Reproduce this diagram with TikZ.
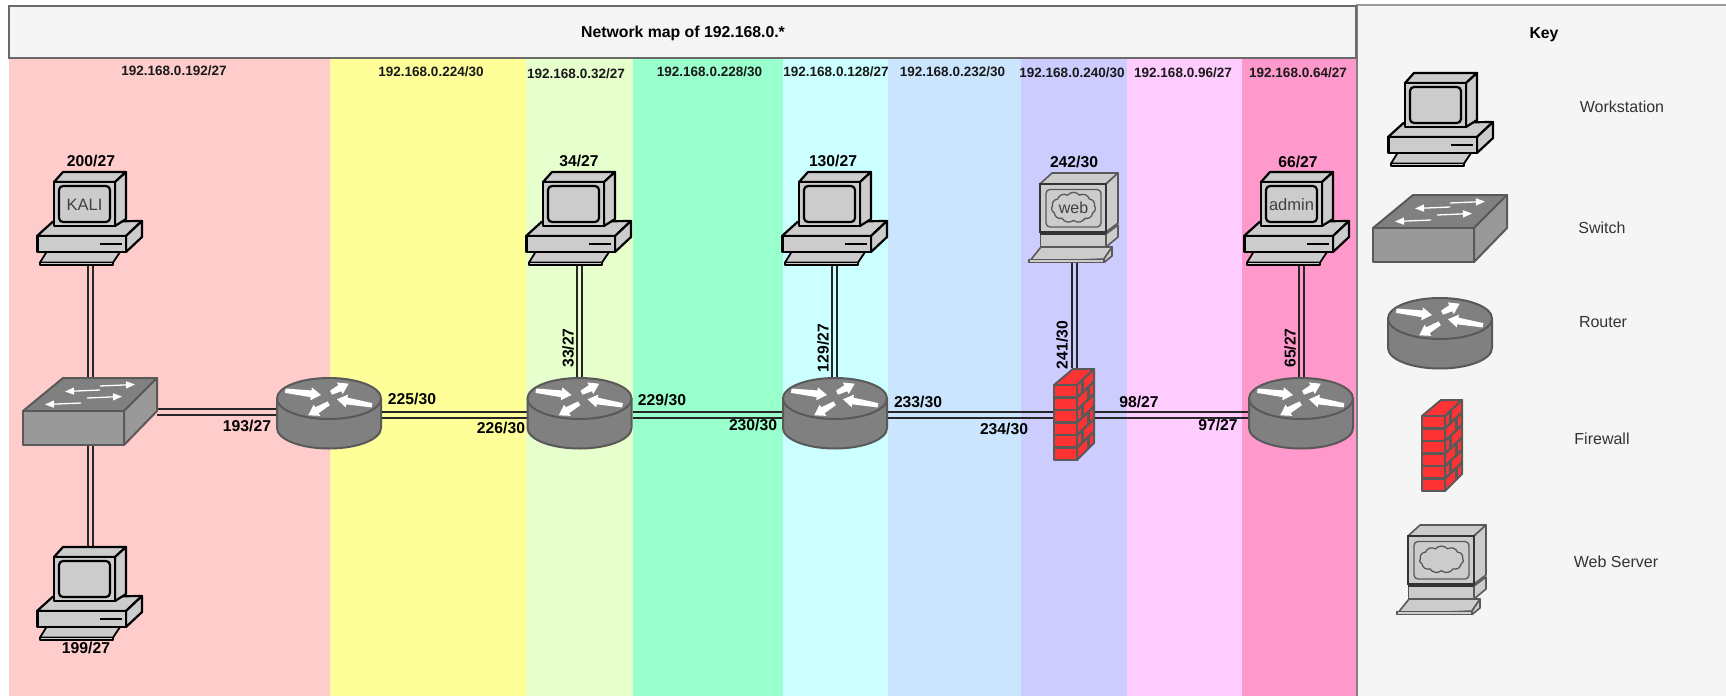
\documentclass[tikz,border=0pt]{standalone}
\usepackage{fontspec}
\setmainfont{Liberation Sans}
\usetikzlibrary{arrows.meta,shapes.symbols,calc}
\definecolor{zA}{HTML}{FFCCCC}
\definecolor{zB}{HTML}{FFFF99}
\definecolor{zC}{HTML}{E6FFCC}
\definecolor{zD}{HTML}{99FFCC}
\definecolor{zE}{HTML}{CCFFFF}
\definecolor{zF}{HTML}{CCE5FF}
\definecolor{zG}{HTML}{CCCCFF}
\definecolor{zH}{HTML}{FFCCFF}
\definecolor{zI}{HTML}{FF99CC}
\definecolor{panel}{HTML}{F5F5F5}
\definecolor{edge}{HTML}{595959}
\definecolor{ltgrey}{HTML}{CCCCCC}
\definecolor{midgrey}{HTML}{999999}
\definecolor{dkgrey}{HTML}{808080}
\definecolor{brick}{HTML}{FF3333}
\newcommand{\taper}[2]{%
  \coordinate (T) at (#1);
  \coordinate (P) at (#2);
  \coordinate (B) at ($(P)!10pt!(T)$);
  \fill[white] ($(T)!2.2pt!90:(P)$) -- ($(B)!3.4pt!90:(P)$) -- ($(B)!6.5pt!90:(P)$) -- (P)
    -- ($(B)!6.5pt!-90:(P)$) -- ($(B)!3.4pt!-90:(P)$) -- ($(T)!2.2pt!-90:(P)$) -- cycle;}
\tikzset{
  iconbox/.style={anchor=north west,inner sep=0pt,outer sep=0pt},
  zonelabel/.style={font=\fontsize{13.5}{15}\selectfont\bfseries,inner sep=0pt,text=black!90},
  iplabel/.style={font=\fontsize{15.7}{18}\selectfont\bfseries,inner sep=0pt},
  keylabel/.style={font=\fontsize{16}{18}\selectfont,inner sep=0pt,text=black!80},
  titlelabel/.style={font=\fontsize{15.8}{18}\selectfont\bfseries,inner sep=0pt},
  wire/.style={line width=1.15pt,black!85},
  wst/.style={draw=black,line width=2.2pt,fill=ltgrey,line join=round},
  srv/.style={draw=edge,line width=1.6pt,fill=ltgrey,line join=round},
  gearedge/.style={draw=edge,line width=2pt,line join=round},
  sarrow/.style={white,line width=1.3pt,-{Triangle[length=9pt,width=7pt]}},
  workstation/.pic={
    \path[wst] (0,65) -- (15.5,51) -- (105,50) -- (89,65) -- cycle;
    \path[wst] (89,65) -- (105,50) -- (105,66) -- (89,81) -- cycle;
    \path[wst] (0.5,65) rectangle (89,81);
    \draw[black,line width=2.2pt] (63,73) -- (85,73);
    \path[wst] (17,11) -- (26,1) -- (89,1) -- (78,11) -- cycle;
    \path[wst] (78,11) -- (89,1) -- (89,48) -- (78,55) -- cycle;
    \path[wst] (17,11) rectangle (78,55);
    \path[wst,rounded corners=4pt] (22,15) rectangle (73,51);
    \path[wst,line width=1.8pt] (3,91.5) -- (9.5,81) -- (83,81) -- (76,91.5) -- cycle;
    \path[wst,line width=1.6pt] (3,91.5) rectangle (76,94);
    \node[inner sep=0pt,font=\fontsize{16.5}{18}\selectfont,text=black!75] (txt) at (47.5,34) {\tikzpictext};
  },
  webserver/.pic={
    \path[srv] (1,90) -- (13,75) -- (84,75) -- (76,87) -- cycle;
    \path[srv] (76,87) -- (84,75) -- (84,84) -- (76,90.5) -- cycle;
    \path[srv] (1,87.5) rectangle (76,90.5);
    \path[srv] (12.5,62) rectangle (78,75);
    \path[srv] (78,62) -- (90,53) -- (90,65) -- (78,75) -- cycle;
    \path[srv] (12,12) -- (24,1) -- (90,1) -- (78,12) -- cycle;
    \path[srv] (78,12) -- (90,1) -- (90,51) -- (78,60) -- cycle;
    \path[draw=black!80,fill=ltgrey,line width=2.4pt] (12,12) rectangle (78,60);
    \draw[black!80,line width=3.2pt] (12,61) -- (78,61);
    \path[draw=edge,line width=1.3pt,rounded corners=4pt] (18,17.5) rectangle (73,55);
    \node[cloud,cloud puffs=11,cloud puff arc=100,aspect=1.6,draw=edge,line width=1.3pt,fill=ltgrey,inner sep=0pt,minimum width=44pt,minimum height=27pt,font=\fontsize{16}{18}\selectfont,text=black!75] (txt) at (45.5,35.5) {\tikzpictext};
  },
  networkswitch/.pic={
    \path[gearedge,fill=dkgrey] (1,34) -- (41,1) -- (135,1) -- (102,34) -- cycle;
    \path[gearedge,fill=midgrey] (102,34) -- (135,1) -- (135,34) -- (102,68) -- cycle;
    \path[gearedge,fill=midgrey] (1,34) rectangle (102,68);
    \draw[sarrow] (78,9) -- (113,7.5);
    \draw[sarrow] (78,13) -- (43,14.5);
    \draw[sarrow] (65,21) -- (100,19.5);
    \draw[sarrow] (59,26) -- (23,27.5);
  },
  router/.pic={
    \path[gearedge,fill=dkgrey] (1,21.5) -- (1,51) arc[start angle=180,end angle=0,x radius=52,y radius=20.5] -- (105,21.5) -- cycle;
    \path[gearedge,fill=dkgrey] (53,21.5) ellipse[x radius=52,y radius=20.5];
    \taper{9.3,13.7}{45,18}
    \taper{55,15.7}{72.7,6.7}
    \taper{96,28.3}{61,22.3}
    \taper{52.7,26.3}{32.3,38.3}
  },
  firewall/.pic={
    \path[gearedge,fill=brick] (1,17) -- (20,1) -- (41,1) -- (24,17) -- cycle;
    \path[gearedge,fill=brick] (24,17) -- (41,1) -- (41,75) -- (24,92) -- cycle;
    \path[gearedge,fill=brick] (1,17) rectangle (24,92);
    \foreach \k in {1,...,5}{
      \draw[edge,line width=2.4pt] (1,{17+12.5*\k}) -- (24,{17+12.5*\k});
      \draw[edge,line width=2.4pt] (24,{17+12.5*\k}) -- (41,{1+12.5*\k});
    }
    \foreach \k/\xx in {0/29.5,1/35.5,2/29.5,3/35.5,4/29.5,5/35.5}{
      \draw[edge,line width=2.2pt] (\xx,{17+12.5*\k-(\xx-24)*0.94}) -- ++(0,12.5);
    }
  }
}
\newcommand{\vlink}[4]{%
  \draw[wire] (#3,0 |- #1.south) -- (#3,0 |- #2.north);
  \draw[wire] (#4,0 |- #1.south) -- (#4,0 |- #2.north);}
\newcommand{\hlink}[4]{%
  \draw[wire] (#1.east |- 0,#3) -- (#2.west |- 0,#3);
  \draw[wire] (#1.east |- 0,#4) -- (#2.west |- 0,#4);}
\begin{document}
\begin{tikzpicture}[x=1pt,y=-1pt]
\useasboundingbox (0,0) rectangle (1726,696);
\fill[white] (0,0) rectangle (1726,696);
% zones
\foreach \a/\b/\c in {9/330/zA,330/526/zB,526/632.5/zC,632.5/783/zD,783/888/zE,888/1021/zF,1021/1127/zG,1127/1242/zH,1242/1356/zI}{
  \fill[\c] (\a,58) rectangle (\b,696);
}
% key panel and title
\fill[panel] (1356,5) rectangle (1726,696);
\draw[midgrey,line width=2pt] (1356,5) -- (1726,5);
\draw[dkgrey,line width=2.2pt] (1357,5) -- (1357,696);
\path[draw=edge!90,fill=panel,line width=2.4pt] (9,6) rectangle (1356,58);
\node[titlelabel] (title) at (683,33) {Network map of 192.168.0.*};
\node[titlelabel] (keytitle) at (1544,34.5) {Key};
% zone labels
\node[zonelabel] (z1) at (174,71) {192.168.0.192/27};
\node[zonelabel] (z2) at (431,71.5) {192.168.0.224/30};
\node[zonelabel] (z3) at (576,74) {192.168.0.32/27};
\node[zonelabel] (z4) at (709.5,72) {192.168.0.228/30};
\node[zonelabel] (z5) at (836,72) {192.168.0.128/27};
\node[zonelabel] (z6) at (952.5,72) {192.168.0.232/30};
\node[zonelabel] (z7) at (1072,73) {192.168.0.240/30};
\node[zonelabel] (z8) at (1183,73) {192.168.0.96/27};
\node[zonelabel] (z9) at (1298,73) {192.168.0.64/27};
% named boxes of the devices
\node[iconbox,minimum width=106pt,minimum height=95pt] (kali) at (37,171) {};
\node[iconbox,minimum width=106pt,minimum height=95pt] (wkb) at (37,546) {};
\node[iconbox,minimum width=135pt,minimum height=69pt] (sw) at (22,377) {};
\node[iconbox,minimum width=106pt,minimum height=73pt] (r1) at (276,377) {};
\node[iconbox,minimum width=106pt,minimum height=95pt] (wk34) at (526,171) {};
\node[iconbox,minimum width=106pt,minimum height=73pt] (r2) at (526.5,377) {};
\node[iconbox,minimum width=106pt,minimum height=95pt] (wk130) at (782,171) {};
\node[iconbox,minimum width=106pt,minimum height=73pt] (r3) at (782,377) {};
\node[iconbox,minimum width=90pt,minimum height=91pt] (web) at (1028,172) {};
\node[iconbox,minimum width=41pt,minimum height=92pt] (fw) at (1053,368) {};
\node[iconbox,minimum width=106pt,minimum height=95pt] (adm) at (1244,171) {};
\node[iconbox,minimum width=106pt,minimum height=73pt] (r4) at (1248,377) {};
% connectors
\vlink{kali}{sw}{88}{93}
\vlink{sw}{wkb}{88}{93}
\vlink{wk34}{r2}{577}{582}
\vlink{wk130}{r3}{832}{837}
\vlink{web}{fw}{1072}{1077}
\vlink{adm}{r4}{1299}{1304}
\hlink{sw}{r1}{409}{415}
\hlink{r1}{r2}{412}{418}
\hlink{r2}{r3}{412}{418}
\hlink{r3}{fw}{412}{418}
\hlink{fw}{r4}{412}{418}
% devices
\pic[pic text={KALI}] at (kali.north west) {workstation};
\pic[pic text={}] at (wkb.north west) {workstation};
\pic[pic text={}] at (wk34.north west) {workstation};
\pic[pic text={}] at (wk130.north west) {workstation};
\pic[pic text={admin}] at (adm.north west) {workstation};
\pic[pic text={web}] at (web.north west) {webserver};
\pic at (sw.north west) {networkswitch};
\pic at (r1.north west) {router};
\pic at (r2.north west) {router};
\pic at (r3.north west) {router};
\pic at (r4.north west) {router};
\pic at (fw.north west) {firewall};
% key devices
\pic[pic text={}] at (1388,72) {workstation};
\pic at (1372,194) {networkswitch};
\pic at (1387,297) {router};
\pic at (1421,399) {firewall};
\pic[pic text={}] at (1396,524) {webserver};
\node[keylabel] (k1) at (1622,107) {Workstation};
\node[keylabel] (k2) at (1602,228) {Switch};
\node[keylabel] (k3) at (1603,322) {Router};
\node[keylabel] (k4) at (1602,439) {Firewall};
\node[keylabel] (k5) at (1616,562) {Web Server};
% address labels
\node[iplabel] (a1) at (91,161) {200/27};
\node[iplabel] (a2) at (86,648) {199/27};
\node[iplabel] (a3) at (579,161) {34/27};
\node[iplabel] (a4) at (833,161) {130/27};
\node[iplabel] (a5) at (1074,162) {242/30};
\node[iplabel] (a6) at (1298,162) {66/27};
\node[iplabel] (a7) at (247,426) {193/27};
\node[iplabel] (a8) at (412,398.5) {225/30};
\node[iplabel] (a9) at (501,428) {226/30};
\node[iplabel] (a10) at (662,399.5) {229/30};
\node[iplabel] (a11) at (753,425) {230/30};
\node[iplabel] (a12) at (918,402) {233/30};
\node[iplabel] (a13) at (1004,429) {234/30};
\node[iplabel] (a14) at (1139,402) {98/27};
\node[iplabel] (a15) at (1218,425) {97/27};
\node[iplabel,rotate=90] (a16) at (568,348) {33/27};
\node[iplabel,rotate=90] (a17) at (823,348) {129/27};
\node[iplabel,rotate=90] (a18) at (1062,345) {241/30};
\node[iplabel,rotate=90] (a19) at (1290,348) {65/27};
\end{tikzpicture}
\end{document}
